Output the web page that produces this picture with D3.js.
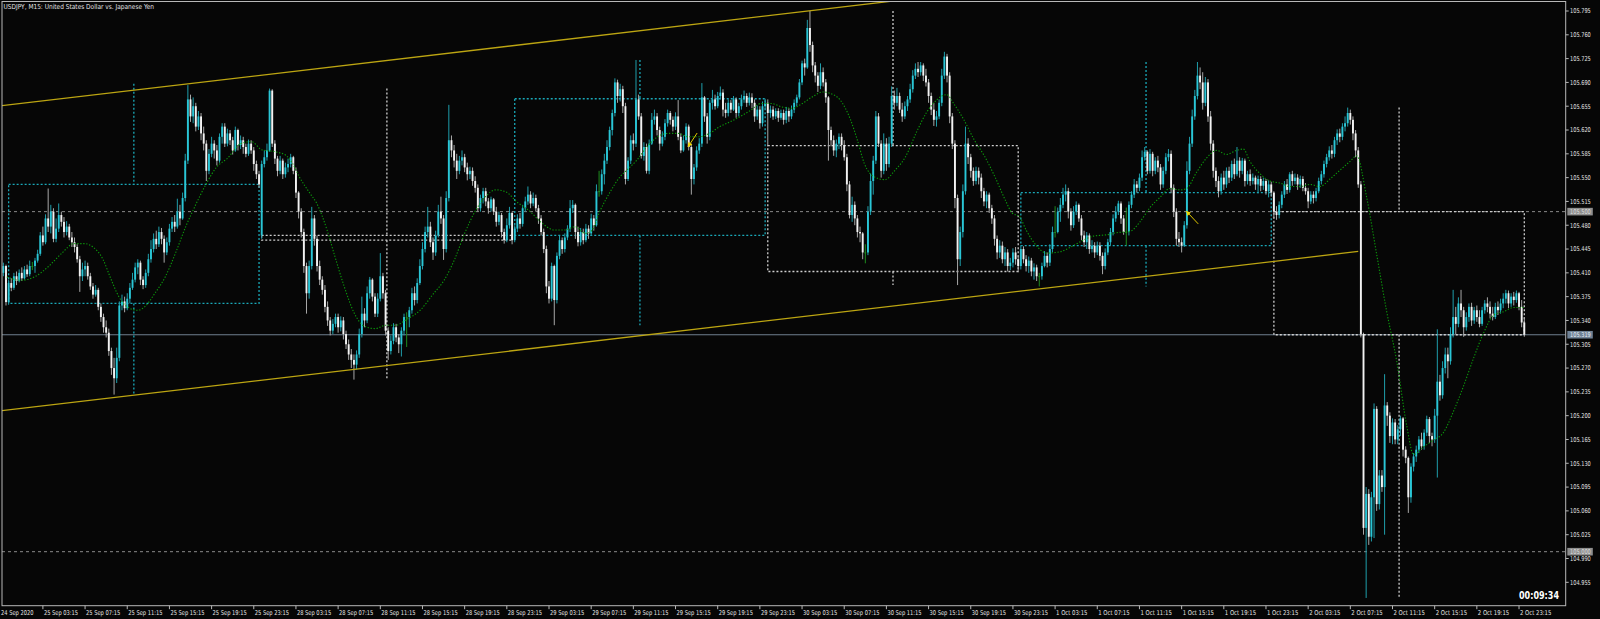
<!DOCTYPE html>
<html><head><meta charset="utf-8">
<script src="https://cdn.jsdelivr.net/npm/d3@7"></script>
<style>html,body{margin:0;padding:0;background:#060606;overflow:hidden}</style>
</head><body>
<svg id="c" width="1600" height="619"></svg>
<script>
// ---------- DATA (prices in points: price = 105 + pts/1000) ----------
const BASE = 105.0;
const firstOpenPts = 410;            // open of the first visible bar
const gapOpenPts = {98: 465};        // weekend gap open (28 Sep 00:00)
const closePts = [
420,367,395,388,405,398,410,402,415,408, 420,420,428,438,465,455,490,478,500,460,
475,495,485,470,478,462,455,448,430,405, 415,420,405,390,378,385,360,345,330,322,
295,270,255,285,362,368,358,372,388,400, 418,425,400,392,410,430,445,460,452,470,
460,440,455,475,485,478,500,490,520,575, 665,640,655,625,640,615,600,560,585,600,
590,575,610,625,600,615,605,590,620,598, 605,595,585,600,590,570,555,540,
570,580,
590,678,600,578,560,575,555,565,570,580, 560,528,500,470,420,380,420,490,460,420,
400,385,360,340,325,335,345,330,340,320, 305,290,282,275,290,320,350,340,380,400,
375,350,372,405,380,325,295,310,330,315, 305,325,345,345,355,380,370,395,420,445,
470,478,455,440,465,500,490,445,520,605, 590,575,560,575,580,565,555,560,545,535,
505,520,530,515,505,518,500,485,495,470, 458,480,498,458,
475,490,482,505,515,525,
512,520,505,490,470,445,390,372,420,370, 435,458,445,462,475,505,510,470,455,470,
458,475,468,490,480,530,530,555,575,595, 620,645,690,670,680,655,548,575,605,600,
665,640,582,595,560,600,635,640,620,600, 610,630,645,635,625,640,610,590,605,625,
595,548,565,590,600,668,640,610,660,665, 655,670,675,650,645,660,650,665,645,655,
665,670,660,668,660,640,650,630,655,660,
645,650,640,648,638,645,635,648,640,650, 660,668,690,718,712,770,745,715,700,685,
705,690,668,620,605,590,600,610,598,580, 540,495,510,490,470,468,440,440,500,545,
575,640,600,560,600,570,600,670,660,670, 650,640,655,665,680,700,710,705,715,700,
690,670,650,635,640,660,700,728,700,640, 600,520,430,470,530,600,580,560,545,560,
550,530,515,525,505,490,460,440,450,430, 440,420,425,440,430,420,
445,430,420,428,
412,418,405,405,420,435,425,445,470,470, 500,510,525,530,500,480,500,510,490,465,
455,465,445,450,440,450,435,420,440,455, 470,490,500,512,490,470,470,510,525,540,
535,550,580,588,560,585,560,575,565,540, 560,580,585,535,500,460,455,450,480,560,
600,640,670,700,690,660,690,640,600,560, 545,530,550,540,560,550,570,555,575,560,
575,545,555,545,550,540,548,538,545,530, 540,528,
500,495,510,525,540,532,555,545,
550,540,548,535,530,515,525,520,530,545, 555,570,580,590,585,605,615,610,625,630,
645,635,615,590,540,320,35,85,22,80, 210,70,112,95,215,200,170,190,165,180,
196,150,138,80,125,140,150,165,155,175, 195,170,165,200,250,230,270,290,280,320,
345,335,365,355,330,345,360,340,355,345, 335,355,365,360,350,345,360,355,365,372,
380,365,375,370,380,360,337,319];
const highPts = [
425,422,400,402,410,412,415,418,420,422, 428,426,432,444,470,478,496,534,510,505,
490,512,500,492,486,482,470,462,452,435, 425,428,425,410,395,392,388,365,350,340,
328,300,285,300,368,378,375,380,395,410, 425,430,428,405,415,438,458,468,472,478,
476,465,462,482,492,495,519,510,528,585, 686,672,668,660,648,645,625,605,592,610,
605,598,615,630,630,622,620,610,625,622, 612,610,600,606,605,595,575,560,
575,590,
600,681,680,605,582,582,578,572,578,585, 582,565,530,505,475,425,428,507,495,465,
428,405,392,368,345,342,350,350,346,345, 325,312,298,290,296,328,375,358,390,404,
402,380,380,439,410,385,330,318,336,335, 320,330,350,352,360,388,390,402,430,455,
478,507,485,462,472,510,522,495,530,657, 612,598,585,582,590,585,572,566,565,552,
540,525,535,535,520,522,520,507,500,498, 475,490,507,500,
480,496,498,510,522,537,
530,528,525,510,495,475,450,398,425,422, 440,465,462,468,480,517,517,512,478,476,
475,482,480,497,495,540,560,562,585,605, 625,650,696,694,688,685,660,580,612,615,
723,672,645,602,600,606,645,650,645,625, 618,636,650,648,640,646,664,615,612,630,
628,600,570,596,608,689,670,645,664,679, 672,676,684,680,660,665,664,670,668,660,
672,678,674,675,674,665,656,655,662,666,
665,656,655,652,652,650,650,654,652,656, 665,672,695,722,725,782,795,750,720,705,
718,712,695,670,625,612,606,615,615,605, 585,545,522,515,495,478,470,452,508,556,
582,648,645,605,615,608,610,684,678,682, 675,660,662,670,688,708,718,720,720,718,
710,695,675,660,648,665,710,735,732,705, 645,605,525,478,540,625,608,585,565,566,
565,556,535,530,528,510,495,465,458,456, 448,445,432,446,448,436,
450,449,436,434,
432,424,422,410,425,442,440,452,478,508, 506,520,535,540,535,505,508,515,512,495,
472,470,468,458,455,456,455,440,446,460, 476,496,508,516,515,495,506,515,530,548,
545,556,590,595,590,592,588,580,582,570, 566,586,592,590,540,505,470,462,486,574,
610,650,679,720,712,705,698,695,648,605, 565,552,556,560,565,566,575,578,595,580,
579,578,560,562,556,553,553,552,550,548, 546,544,
530,508,515,530,545,548,558,560,
556,555,553,552,542,535,530,530,535,550, 560,575,585,596,598,610,621,622,630,640,
653,650,640,620,595,545,322,95,92,88, 218,214,120,120,261,220,205,196,195,186,
200,198,155,140,130,145,156,170,175,180, 200,198,175,210,327,260,280,300,300,330,
385,360,374,385,360,352,365,366,360,362, 355,360,370,374,368,360,366,368,372,380,
385,384,380,382,384,382,370,345];
const lowPts = [
405,362,363,383,385,392,396,398,400,404, 405,414,410,425,435,450,452,470,468,455,
455,470,478,462,465,458,448,440,425,382, 398,405,400,385,372,375,355,338,322,315,
288,260,231,248,280,355,352,355,365,385, 396,408,392,386,388,405,425,440,445,448,
452,425,436,450,470,470,475,480,488,515, 570,632,630,618,620,605,590,545,555,580,
578,568,572,600,595,596,598,584,588,590, 592,585,580,582,585,560,548,535,
460,565,
575,588,595,570,552,555,548,550,558,565, 555,520,490,462,410,350,372,415,450,412,
392,378,352,332,318,320,330,322,324,312, 298,282,270,253,268,285,315,330,336,372,
368,345,345,368,372,318,282,290,305,308, 292,287,318,301,330,350,362,365,392,415,
440,462,448,429,435,462,482,429,440,515, 580,565,548,555,568,558,546,548,538,528,
500,500,512,508,497,500,495,478,480,462, 453,455,475,452,
455,470,475,478,500,510,
505,508,500,482,465,439,380,365,368,333, 365,430,438,440,458,470,498,460,449,450,
452,455,460,465,472,478,522,525,540,570, 590,612,640,660,662,645,540,545,570,590,
595,635,578,575,556,555,598,628,612,590, 596,605,625,628,618,620,605,586,588,600,
590,525,540,560,585,595,632,600,605,650, 650,652,665,640,638,640,645,648,638,640,
650,660,654,656,652,632,635,622,625,650,
596,638,635,636,632,635,628,630,632,636, 645,655,665,686,700,710,735,705,690,676,
680,684,660,575,596,582,580,592,590,575, 530,490,485,480,462,455,430,424,436,495,
525,570,595,550,555,560,565,595,650,655, 645,632,636,648,660,675,695,698,700,692,
684,660,642,626,625,636,655,695,690,630, 592,505,392,420,462,525,570,550,538,540,
540,520,508,505,498,482,450,430,432,424, 420,412,414,418,422,412,
415,424,412,410,
405,400,398,390,400,418,418,420,440,462, 468,485,505,515,490,472,476,495,485,458,
448,445,438,440,432,436,428,408,415,436, 450,465,485,495,482,466,450,465,505,520,
528,530,545,575,555,556,552,555,558,532, 535,555,574,527,492,450,448,440,448,475,
555,595,635,665,680,650,655,632,590,550, 536,521,525,532,535,542,545,548,552,550,
555,537,540,538,540,532,527,530,532,525, 521,522,
490,488,490,505,520,526,528,538,
540,532,535,530,525,505,511,512,515,527, 540,550,565,575,578,580,598,602,605,618,
625,628,605,580,535,315,25,-68,10,15, 20,60,62,88,25,185,160,158,158,158,
170,140,130,57,72,118,132,145,150,150, 170,160,155,160,109,222,225,262,255,275,
315,320,330,345,316,325,338,332,335,338, 330,332,350,352,343,340,342,348,350,358,
365,358,360,362,366,355,330,316];

// daily candles overlay (dotted boxes)
const dayNames  = ["25 Sep","28 Sep","29 Sep","30 Sep","1 Oct","2 Oct"];
const dayStart  = [2, 98, 194, 290, 386, 482];
const dayOpen   = [105.365,105.465,105.465,105.597,105.450,105.500];
const dayHigh   = [105.688,105.681,105.723,105.795,105.720,105.653];
const dayLow    = [105.231,105.253,105.333,105.392,105.390,104.933];
const dayClose  = [105.540,105.458,105.666,105.412,105.528,105.319];

// moving average (green dotted) read at bar positions
const maIdx = [1.3,6.6,11.8,17,22.2,26.8,30.7,34,37.9,40.5,43.8,47,51,53.6,57.5,61.4,65.3,69.2,73.2,77.1,
81,84.9,90.1,94.1,98,103.2,107.1,109.7,112.3,116.3,118.9,122.8,125.4,129.3,133.2,137.2,141.1,145,148.9,152.8,
158.1,163.3,167.2,171.1,175,178.9,182.9,186.8,190.7,194.6,199.9,203.8,209.1,213,216.9,220.8,223.4,226,229.9,233.9,
236.5,240.4,244.3,248.2,252.2,256.1,260,263.9,267.8,271.8,275.7,279.6,283.5,287.4,291.3,295.3,299.2,303.1,307,310.9,
313.5,317.5,321.4,324,326.6,330.5,334.4,338.3,342.3,346.2,350.1,354,357.9,360.5,364.4,368.4,372.3,376.2,380.1,382.7,
385.4,388,391.9,395.8,400.9,405.9,409.7,413.5,418.6,422.4,427.4,431.2,435,438.8,442.6,446.4,448.9,452.7,456.5,460.3,
464,467.8,470.4,472.9,476.7,480.5,484.3,488.1,491.9,495.7,499.5,503.3,507.1,510.9,513.4,517.2,521,524.8,528.6,532.4,
535,538.7,542.5,546.3,550.1,553.9,557.8,561.6,565.4,569.2,573,576.8];
const maPts = [404,399,404,419,439,453,453,448,429,404,375,360,355,360,380,404,439,478,512,542,
566,578,600,603,591,588,583,571,551,527,512,473,439,390,350,331,328,333,333,341,
355,380,399,429,468,500,522,532,529,515,500,485,473,473,478,468,473,498,527,551,
561,576,596,610,615,615,610,610,615,625,632,640,649,659,659,654,652,659,669,676,
674,664,635,605,571,551,547,561,581,615,645,664,672,659,635,605,581,551,517,498,
493,473,450,439,441,450,458,464,466,469,471,485,506,521,534,532,534,558,579,590,
584,590,592,574,556,545,542,537,537,540,537,548,561,574,582,521,437,353,280,185,
143,154,164,175,206,243,285,322,348,353,359,359];

// trend channel (bar index, price)
const channelLines = [
  {k1:-1, p1:105.2071, k2:514, p2:105.4415},
  {k1:-1, p1:105.6556, k2:514, p2:105.8900}
];
// trade arrows: tail -> head (bar index, price)
const tradeArrows = [
  {k1:263.2, p1:105.6156, k2:259.7, p2:105.5950},
  {k1:453.3, p1:105.4820, k2:448.7, p2:105.5010}
];

const yTicks = [104.955,104.990,105.025,105.060,105.095,105.130,105.165,105.200,105.235,105.270,105.305,
105.340,105.375,105.410,105.445,105.480,105.515,105.550,105.585,105.620,105.655,105.690,105.725,105.760,105.795];
const firstLabel = "24 Sep 2020";
const xLabelStart = 15, xLabelStep = 16;
const xLabels = ["25 Sep 03:15","25 Sep 07:15","25 Sep 11:15","25 Sep 15:15","25 Sep 19:15","25 Sep 23:15",
"28 Sep 03:15","28 Sep 07:15","28 Sep 11:15","28 Sep 15:15","28 Sep 19:15","28 Sep 23:15",
"29 Sep 03:15","29 Sep 07:15","29 Sep 11:15","29 Sep 15:15","29 Sep 19:15","29 Sep 23:15",
"30 Sep 03:15","30 Sep 07:15","30 Sep 11:15","30 Sep 15:15","30 Sep 19:15","30 Sep 23:15",
"1 Oct 03:15","1 Oct 07:15","1 Oct 11:15","1 Oct 15:15","1 Oct 19:15","1 Oct 23:15",
"2 Oct 03:15","2 Oct 07:15","2 Oct 11:15","2 Oct 15:15","2 Oct 19:15","2 Oct 23:15"];
const levelLines = [105.500, 105.000];
const bidPrice = 105.319;
const title = "USDJPY, M15:  United States Dollar vs. Japanese Yen";
const timerText = "00:09:34";

// ---------- DRAW ----------
const W = 1600, H = 619;
const plot = {l:2, t:1.5, r:1565.7, b:605.7};
const x = d3.scaleLinear().domain([0, 577]).range([3.36, 1524.3]);
const y = d3.scaleLinear().domain([104.955, 105.795]).range([582.3, 11]);
const P = v => BASE + v/1000;

const bars = closePts.map((c,k)=>{
  let o = k===0 ? firstOpenPts : (gapOpenPts[k]!==undefined ? gapOpenPts[k] : closePts[k-1]);
  const h = Math.max(highPts[k], o, c), l = Math.min(lowPts[k], o, c);
  return {k, o:P(o), h:P(h), l:P(l), c:P(c), doji: o===c, up: c>o};
});

const svg = d3.select("#c");
svg.append("rect").attr("width",W).attr("height",H).attr("fill","#060606");
const defs = svg.append("defs");
defs.append("clipPath").attr("id","pc").append("rect")
  .attr("x",plot.l).attr("y",plot.t).attr("width",plot.r-plot.l).attr("height",plot.b-plot.t);
const g = svg.append("g").attr("clip-path","url(#pc)");

// level lines
levelLines.forEach(p=>{
  g.append("line").attr("x1",plot.l).attr("x2",plot.r).attr("y1",y(p)).attr("y2",y(p))
    .attr("stroke","#8a8a8a").attr("stroke-width",1).attr("stroke-dasharray","3,3");
});
g.append("line").attr("x1",plot.l).attr("x2",plot.r).attr("y1",y(bidPrice)).attr("y2",y(bidPrice))
  .attr("stroke","#6f7f8f").attr("stroke-width",1.2);

// daily boxes
dayStart.forEach((s,i)=>{
  const bull = dayClose[i] >= dayOpen[i];
  const col = bull ? "#1aa8b8" : "#cfcfcf";
  const x0 = x(s), x1 = x(s+95), xm = x(s+47.5);
  const top = Math.max(dayOpen[i],dayClose[i]), bot = Math.min(dayOpen[i],dayClose[i]);
  const dg = g.append("g").attr("fill","none").attr("stroke",col).attr("stroke-width",1.3).attr("stroke-dasharray","2,2");
  dg.append("rect").attr("x",x0).attr("y",y(top)).attr("width",x1-x0).attr("height",Math.max(0.5,y(bot)-y(top)));
  dg.append("line").attr("x1",xm).attr("x2",xm).attr("y1",y(dayHigh[i])).attr("y2",y(top));
  dg.append("line").attr("x1",xm).attr("x2",xm).attr("y1",y(bot)).attr("y2",y(dayLow[i]));
});

// candles
const cg = g.append("g");
bars.forEach(b=>{
  const cx = x(b.k);
  const wick = b.doji ? "#1e8c1e" : (b.up ? "#1f9fac" : "#a8a8a8");
  const body = b.doji ? "#1e8c1e" : (b.up ? "#2ac6d6" : "#f2f2f2");
  cg.append("line").attr("x1",cx).attr("x2",cx).attr("y1",y(b.h)).attr("y2",y(b.l))
    .attr("stroke",wick).attr("stroke-width",1);
  const yt = y(Math.max(b.o,b.c)), yb = y(Math.min(b.o,b.c));
  cg.append("rect").attr("x",cx-0.95).attr("width",1.9).attr("y",yt).attr("height",Math.max(0.9,yb-yt))
    .attr("fill",body);
});

// channel
channelLines.forEach(t=>{
  g.append("line").attr("x1",x(t.k1)).attr("y1",y(t.p1)).attr("x2",x(t.k2)).attr("y2",y(t.p2))
    .attr("stroke","#bca512").attr("stroke-width",1.3);
});

// moving average
const maData = maIdx.map((k,i)=>[k, P(maPts[i])]);
g.append("path").datum(maData)
  .attr("d", d3.line().x(d=>x(d[0])).y(d=>y(d[1])).curve(d3.curveMonotoneX))
  .attr("fill","none").attr("stroke","#0c9a0c").attr("stroke-width",1.1).attr("stroke-dasharray","1.3,1.7");

// trade arrows
tradeArrows.forEach(a=>{
  const x1=x(a.k1), y1=y(a.p1), x2=x(a.k2), y2=y(a.p2);
  g.append("line").attr("x1",x1).attr("y1",y1).attr("x2",x2).attr("y2",y2)
    .attr("stroke","#e0c800").attr("stroke-width",1);
  const ang = Math.atan2(y2-y1, x2-x1), L=4.5, Wd=2.4;
  const bx = x2 - L*Math.cos(ang), by = y2 - L*Math.sin(ang);
  const px = -Math.sin(ang)*Wd, py = Math.cos(ang)*Wd;
  g.append("path").attr("d",`M${x2},${y2}L${bx+px},${by+py}L${bx-px},${by-py}Z`).attr("fill","#f0d800");
});

// frame
svg.append("rect").attr("x",plot.l).attr("y",plot.t).attr("width",plot.r-plot.l).attr("height",plot.b-plot.t)
  .attr("fill","none").attr("stroke","#b8b8b8").attr("stroke-width",1);

const FONT = "DejaVu Sans, Tahoma, sans-serif";
// y axis
const ya = svg.append("g");
yTicks.forEach(v=>{
  const yy = y(v);
  ya.append("line").attr("x1",plot.r).attr("x2",plot.r+3).attr("y1",yy).attr("y2",yy).attr("stroke","#b8b8b8");
  ya.append("text").attr("x",1570).attr("y",yy+2.3).text(v.toFixed(3))
    .attr("font-family",FONT).attr("font-size",6.6).attr("fill","#e4e4e4")
    .attr("textLength",20.8).attr("lengthAdjust","spacingAndGlyphs");
});
function priceTag(v, bg, fg){
  const yy = y(v);
  ya.append("rect").attr("x",1567.3).attr("y",yy-3.8).attr("width",25.5).attr("height",7.6).attr("fill",bg);
  ya.append("text").attr("x",1570).attr("y",yy+2.3).text(v.toFixed(3))
    .attr("font-family",FONT).attr("font-size",6.6).attr("fill",fg)
    .attr("textLength",20.8).attr("lengthAdjust","spacingAndGlyphs");
}
priceTag(levelLines[0], "#8e8e8e", "#dedede");
priceTag(levelLines[1], "#8e8e8e", "#dedede");
priceTag(bidPrice, "#6f8296", "#e8eef4");

// x axis
const xa = svg.append("g");
xa.append("text").attr("x",1).attr("y",614.5).text(firstLabel)
  .attr("font-family",FONT).attr("font-size",6.6).attr("fill","#e4e4e4")
  .attr("textLength",firstLabel.length*2.95).attr("lengthAdjust","spacingAndGlyphs");
xLabels.forEach((lab,i)=>{
  const xx = x(xLabelStart + i*xLabelStep);
  xa.append("line").attr("x1",xx).attr("x2",xx).attr("y1",plot.b).attr("y2",plot.b+3.5).attr("stroke","#b8b8b8");
  xa.append("text").attr("x",xx+1).attr("y",614.5).text(lab)
    .attr("font-family",FONT).attr("font-size",6.6).attr("fill","#e4e4e4")
    .attr("textLength",lab.length*2.85).attr("lengthAdjust","spacingAndGlyphs");
});

// title & timer
svg.append("text").attr("x",3.5).attr("y",9).text(title)
  .attr("font-family",FONT).attr("font-size",6.8).attr("fill","#e0e0e0")
  .attr("textLength",150.5).attr("lengthAdjust","spacingAndGlyphs");
svg.append("text").attr("x",1519).attr("y",599).text(timerText)
  .attr("font-family",FONT).attr("font-size",10).attr("font-weight","bold").attr("fill","#ffffff")
  .attr("textLength",40).attr("lengthAdjust","spacingAndGlyphs");
</script>
</body></html>
